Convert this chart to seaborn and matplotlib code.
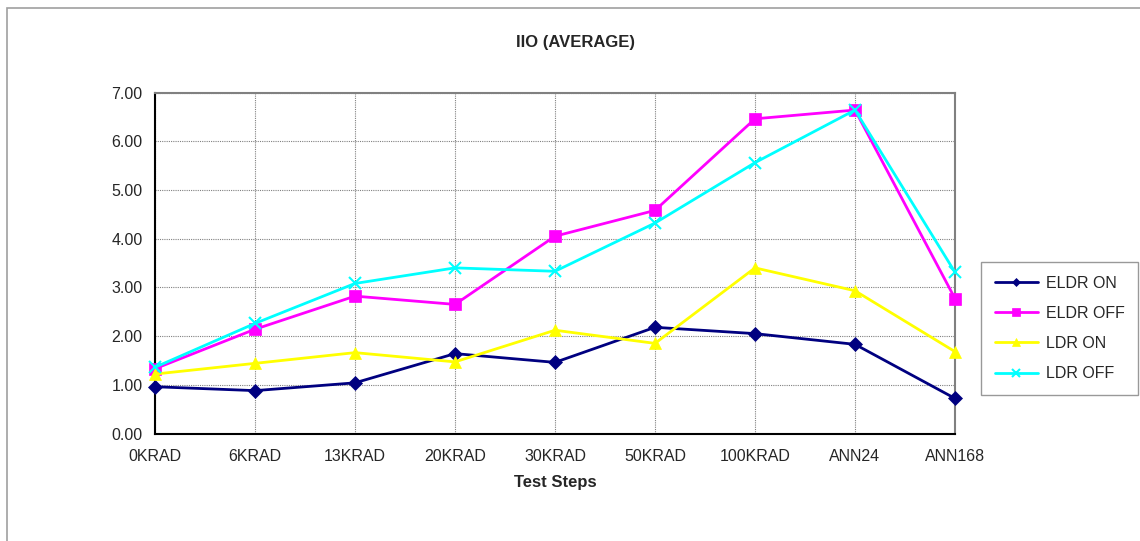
"""
IIO (average) vs test steps
"""
import matplotlib
matplotlib.use("Agg")
import matplotlib.pyplot as plt
from matplotlib.patches import Rectangle
import numpy as np
import pandas as pd
import seaborn as sns

steps = ["0KRAD", "6KRAD", "13KRAD", "20KRAD", "30KRAD", "50KRAD", "100KRAD", "ANN24", "ANN168"]
eldr_on = [0.96, 0.88, 1.04, 1.64, 1.46, 2.18, 2.05, 1.83, 0.72]
eldr_off = [1.33, 2.14, 2.82, 2.65, 4.05, 4.58, 6.46, 6.64, 2.77]
ldr_on = [1.22, 1.44, 1.66, 1.47, 2.12, 1.85, 3.40, 2.93, 1.68]
ldr_off = [1.36, 2.26, 3.08, 3.40, 3.33, 4.32, 5.56, 6.64, 3.31]
y_ticks = [0, 1, 2, 3, 4, 5, 6, 7]

sns.set_theme(style="white")
plt.rcParams["font.family"] = ["Liberation Sans", "DejaVu Sans"]

series = [
    ("ELDR ON", eldr_on, "#000080", "D", 7),
    ("ELDR OFF", eldr_off, "#FF00FF", "s", 9),
    ("LDR ON", ldr_on, "#FFFF00", "^", 9),
    ("LDR OFF", ldr_off, "#00FFFF", "x", 9),
]

fig = plt.figure(figsize=(11.4, 5.41), dpi=100)
ax = fig.add_axes([155 / 1140, 1 - 433.5 / 541, 800 / 1140, 341 / 541])

x = np.arange(len(steps))
for name, vals, color, marker, ms in series:
    df = pd.DataFrame({"x": x, "y": vals})
    sns.lineplot(data=df, x="x", y="y", ax=ax, color=color, marker=marker,
                 markersize=ms, markeredgecolor=color,
                 markeredgewidth=1.5 if marker == "x" else 0.5,
                 linewidth=2, label=name, sort=False, clip_on=False, zorder=3)

ax.set_xlim(0, len(steps) - 1)
ax.set_ylim(0, 7)
ax.set_xticks(x)
ax.set_xticklabels(steps, fontsize=11.5)
ax.set_yticks(y_ticks)
ax.set_yticklabels([f"{v:.2f}" for v in y_ticks], fontsize=11.5)
ax.tick_params(axis="both", direction="out", length=5, width=1, color="black", pad=4)
ax.tick_params(axis="x", pad=6)
ax.grid(True, color="#808080", linestyle=(0, (1, 1)), linewidth=0.8)
ax.set_axisbelow(True)

for side in ["left", "bottom"]:
    ax.spines[side].set_color("black")
    ax.spines[side].set_linewidth(1.5)
for side in ["top", "right"]:
    ax.spines[side].set_color("#808080")
    ax.spines[side].set_linewidth(1.5)
    ax.spines[side].set_visible(True)

ax.set_xlabel("Test Steps", fontsize=12, fontweight="bold", labelpad=8)
ax.set_ylabel("")
fig.text(575 / 1140, 1 - 42 / 541, "IIO (AVERAGE)", ha="center", va="center",
         fontsize=12, fontweight="bold")

leg = ax.legend(loc="upper left", bbox_to_anchor=(981 / 1140, 1 - 262 / 541),
                bbox_transform=fig.transFigure, borderaxespad=0, frameon=True,
                fontsize=11.5, handlelength=2.7, handletextpad=0.5,
                labelspacing=0.95, borderpad=0.85, fancybox=False, markerscale=0.6)
leg.get_frame().set_edgecolor("#808080")
leg.get_frame().set_linewidth(1)

# outer chart border (only left and top edges visible in the crop)
fig.patches.append(Rectangle((7 / 1140, -0.5), 1.5, 1.5 - 8 / 541,
                             transform=fig.transFigure, fill=False,
                             edgecolor="#A0A0A0", linewidth=1.2))

fig.savefig("out.png", dpi=100)
